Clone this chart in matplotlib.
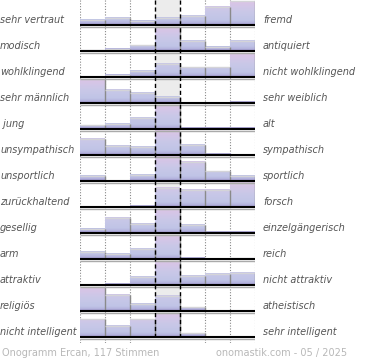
import numpy as np
import matplotlib
matplotlib.use("Agg")
import matplotlib.pyplot as plt
from matplotlib.colors import LinearSegmentedColormap
from matplotlib.transforms import blended_transform_factory

left_labels = ["sehr vertraut", "modisch", "wohlklingend", "sehr männlich", " jung",
               "unsympathisch", "unsportlich", "zurückhaltend", "gesellig", "arm",
               "attraktiv", "religiös", "nicht intelligent"]
right_labels = ["fremd", "antiquiert", "nicht wohlklingend", "sehr weiblich", "alt",
                "sympathisch", "sportlich", "forsch", "einzelgängerisch", "reich",
                "nicht attraktiv", "atheistisch", "sehr intelligent"]
# relative share per scale step (1..7), max of each row = 100
values = [
    [24, 32, 18, 32, 40, 76, 100],
    [4, 11, 25, 100, 44, 18, 43],
    [0, 11, 27, 55, 41, 41, 100],
    [100, 57, 44, 27, 0, 0, 6],
    [16, 23, 49, 100, 5, 5, 5],
    [67, 38, 34, 100, 44, 7, 0],
    [22, 0, 27, 100, 81, 41, 23],
    [0, 0, 7, 82, 71, 71, 100],
    [18, 65, 38, 100, 36, 7, 6],
    [31, 23, 44, 100, 7, 0, 4],
    [0, 7, 35, 100, 38, 49, 52],
    [100, 70, 30, 64, 16, 0, 0],
    [75, 46, 75, 100, 16, 0, 0],
]
footer_left = "Onogramm Ercan, 117 Stimmen"
footer_right = "onomastik.com - 05 / 2025"

W, H = 370, 360
DPI = 100
fig = plt.figure(figsize=(W / DPI, H / DPI), dpi=DPI)

ROW = 26.0          # px per row
TOP = 25.3          # px of first baseline
FULL = 24.0 / ROW   # max bar height in row units
x0px, x1px = 80, 255
ybot_px = 343.0
ax = fig.add_axes([x0px / W, 1 - ybot_px / H, (x1px - x0px) / W, ybot_px / H])
ax.set_xlim(0, 7)
ax.set_ylim(ybot_px / ROW, 0)
ax.axis("off")

nrows = len(values)
base = [TOP / ROW + i for i in range(nrows)]
last = base[-1]

# centre column background
ax.fill_between([3, 4], [0, 0], [last, last], color="#ececec", zorder=0, linewidth=0)

# dotted grid
for xv in [0, 1, 2, 5, 6, 7]:
    ax.plot([xv, xv], [0, ybot_px / ROW], color="#888888", lw=0.8,
            linestyle=(0, (1, 1.5)), zorder=1)

cmap = LinearSegmentedColormap.from_list(
    "g", [(0.0, "#8f82c2"), (0.07, "#b2b0dc"), (0.2, "#c0c4e6"),
          (0.55, "#c9c8e8"), (1.0, "#dcc4e6")])
grad = np.linspace(0, 1, 200).reshape(-1, 1)

for i, row in enumerate(values):
    b = base[i]
    for c, v in enumerate(row):
        if v <= 0:
            continue
        h = v / 100 * FULL
        frac = h / (1.0)
        n = max(2, int(200 * frac / FULL))
        img = np.linspace(0, v / 100, n).reshape(-1, 1)
        ax.imshow(img, cmap=cmap, vmin=0, vmax=1, origin="lower",
                  extent=(c, c + 1, b, b - h), aspect="auto",
                  interpolation="bilinear", zorder=2)
        # top highlight and right shadow
        ax.plot([c, c + 1], [b - h, b - h], color="#d4d4d8", lw=1.0, zorder=3,
                solid_capstyle="butt")
        ax.plot([c + 1, c + 1], [b - h, b], color="#8a8a8a", lw=1.0, zorder=3,
                solid_capstyle="butt")
    # baseline with shadow
    ax.plot([0, 7], [b + 1.5 / ROW, b + 1.5 / ROW], color="#aaaaaa", lw=1.0, zorder=4,
            solid_capstyle="butt")
    ax.plot([0, 7], [b, b], color="black", lw=1.5, zorder=5, solid_capstyle="butt")

# dashed centre lines on top
for xv in [3, 4]:
    ax.plot([xv, xv], [0, last], color="black", lw=1.0,
            linestyle=(0, (3, 2)), zorder=6)

# labels
tl = blended_transform_factory(fig.transFigure, ax.transData)
for i in range(nrows):
    yl = base[i] - 5.5 / ROW
    ax.text(0.0 / W, yl, left_labels[i], transform=tl, ha="left", va="center",
            fontsize=7, style="italic", color="#555555")
    ax.text(263 / W, yl, right_labels[i], transform=tl, ha="left", va="center",
            fontsize=7, style="italic", color="#555555")

fig.text(2 / W, 1 - 353 / H, footer_left, ha="left", va="center", fontsize=7,
         color="#b8b8b8")
fig.text(347 / W, 1 - 353 / H, footer_right, ha="right", va="center", fontsize=7,
         color="#b8b8b8")

fig.savefig("out.png", dpi=DPI)
